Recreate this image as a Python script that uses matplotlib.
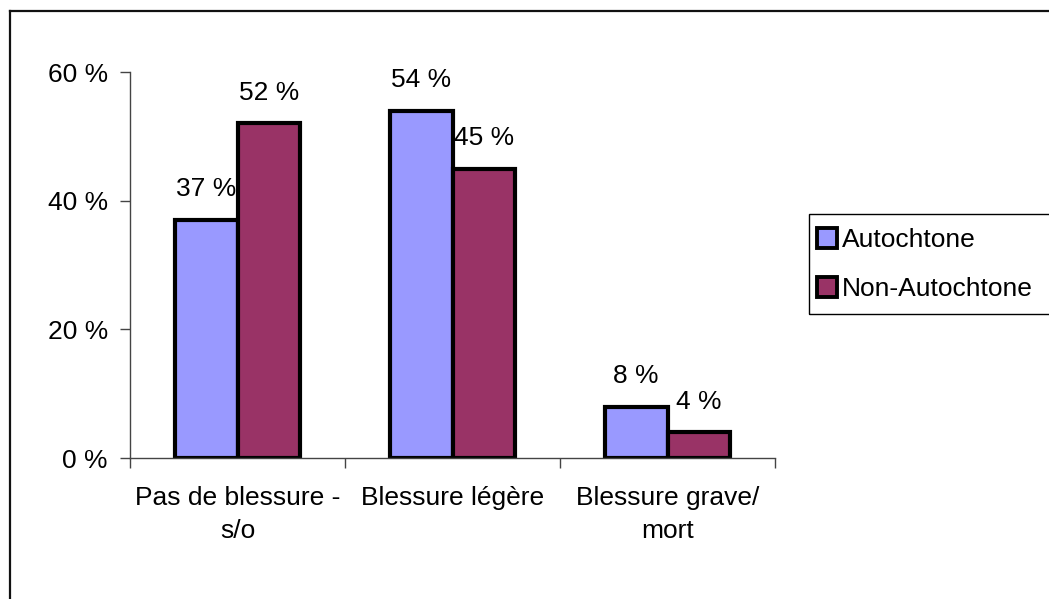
import matplotlib.pyplot as plt
import numpy as np
from matplotlib.patches import Rectangle
from matplotlib.lines import Line2D

plt.rcParams['font.family'] = ['Liberation Sans', 'DejaVu Sans']

# données
categories = ['Pas de blessure -\ns/o', 'Blessure légère', 'Blessure grave/\nmort']
autochtone = [37, 54, 8]
non_autochtone = [52, 45, 4]
series_names = ['Autochtone', 'Non-Autochtone']
y_ticks = [0, 20, 40, 60]

fs = 19
W, H = 1049, 599

fig = plt.figure(figsize=(W / 100, H / 100), dpi=100)
ax = fig.add_axes([130 / W, 1 - 458 / H, 645 / W, 386 / H])

x = np.arange(len(categories))
w = 0.293
b1 = ax.bar(x - w / 2, autochtone, w, color='#9999FF', edgecolor='black', linewidth=3,
            label=series_names[0])
b2 = ax.bar(x + w / 2, non_autochtone, w, color='#993366', edgecolor='black', linewidth=3,
            label=series_names[1])

for bars, vals in [(b1, autochtone), (b2, non_autochtone)]:
    for r, v in zip(bars, vals):
        ax.annotate(f'{v} %', (r.get_x() + r.get_width() / 2, v), xytext=(0, 17),
                    textcoords='offset points', ha='center', va='baseline', fontsize=fs)

ax.set_xlim(-0.5, 2.5)
ax.set_ylim(0, 60)
ax.set_yticks(y_ticks)
ax.set_yticklabels([f'{t} %' for t in y_ticks], fontsize=fs)
ax.tick_params(axis='y', length=7, width=1, color='#444444', pad=9)

# ticks aux limites des catégories
ax.set_xticks([-0.5, 0.5, 1.5, 2.5])
ax.set_xticklabels([])
ax.set_xticks(x, minor=True)
ax.set_xticklabels(categories, minor=True, fontsize=fs, linespacing=1.5)
ax.tick_params(axis='x', which='major', length=7, width=1, color='#444444')
ax.tick_params(axis='x', which='minor', length=0, pad=20)

for s in ['top', 'right']:
    ax.spines[s].set_visible(False)
for s in ['left', 'bottom']:
    ax.spines[s].set_color('#444444')
    ax.spines[s].set_linewidth(1)

# légende (cadre dessiné à part, il déborde à droite)
leg = fig.legend(loc='upper left', bbox_to_anchor=(809 / W, 1 - 220 / H), fontsize=fs,
                 frameon=False, handlelength=0.76, handleheight=0.8, handletextpad=0.2,
                 borderpad=0.3, labelspacing=0.93, borderaxespad=0)
for h in leg.legend_handles:
    h.set_linewidth(2.8)
fig.patches.append(Rectangle((809 / W, 1 - 314 / H), 260 / W, 100 / H, transform=fig.transFigure,
                             fill=False, edgecolor='black', linewidth=1, clip_on=False))

# cadre du graphique (coupé à droite et en bas)
fig.lines.append(Line2D([9.5 / W, 1], [1 - 10.5 / H] * 2, transform=fig.transFigure,
                        color='#111111', linewidth=1.6))
fig.lines.append(Line2D([9.5 / W] * 2, [0, 1 - 10.5 / H], transform=fig.transFigure,
                        color='#111111', linewidth=1.6))

plt.savefig('out.png', dpi=100)
